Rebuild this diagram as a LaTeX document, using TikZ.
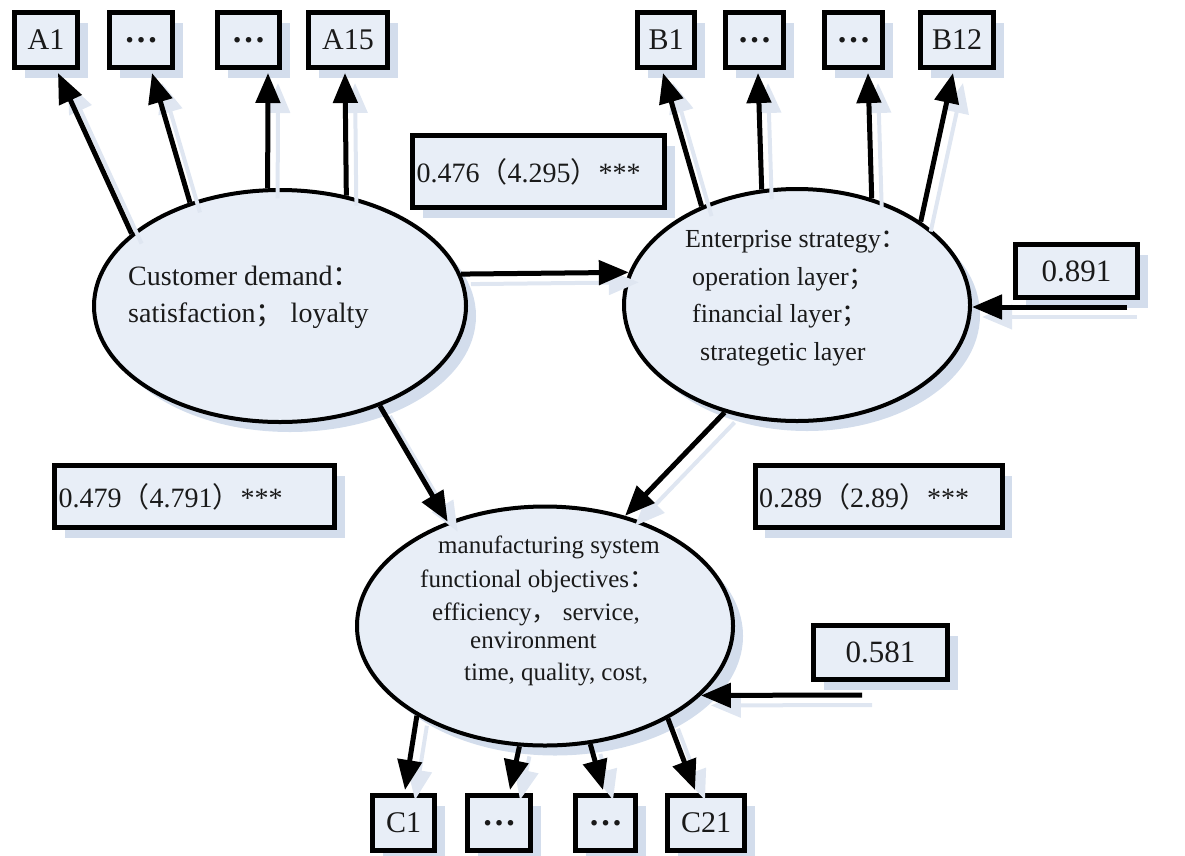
\documentclass[tikz,border=0pt]{standalone}
\usepackage{fontspec}
\setmainfont{Liberation Serif}
\newfontfamily\cjk{Noto Sans CJK SC}
\usetikzlibrary{arrows.meta,shadows,shapes.geometric}
\definecolor{boxfill}{HTML}{E8EEF7}
\definecolor{shadowc}{HTML}{D3DDEC}
\definecolor{ashadowc}{HTML}{DFE6F1}
\definecolor{inkc}{HTML}{1A1A1A}
\newcommand{\fwc}[1]{{\cjk #1}}
\begin{document}
\begin{tikzpicture}[x=1pt,y=-1pt,
  shad/.style={drop shadow={shadow xshift=10pt,shadow yshift=-10pt,fill=shadowc,opacity=1}},
  item/.style={shad, draw=black, line width=5pt, fill=boxfill, minimum height=55pt, inner sep=0pt, text=inkc, font=\fontsize{30}{32}\selectfont},
  dots/.style={item, font=\fontsize{34}{36}\selectfont\bfseries},
  coef/.style={shad, draw=black, line width=5pt, fill=boxfill, inner xsep=4pt, inner ysep=0pt, align=left, text=inkc, font=\fontsize{28}{32}\selectfont},
  resid/.style={shad, draw=black, line width=5pt, fill=boxfill, inner sep=0pt, text=inkc, font=\fontsize{31}{32}\selectfont},
  latent/.style={shad, ellipse, draw=black, line width=4pt, fill=boxfill, inner sep=0pt},
  ltext/.style={anchor=base west, inner sep=0pt, text=inkc},
  cdtext/.style={ltext, font=\fontsize{28}{30}\selectfont},
  estext/.style={ltext, font=\fontsize{26}{28}\selectfont},
  mstext/.style={ltext, font=\fontsize{25}{27}\selectfont},
  arr/.style={line width=5pt, -{Triangle[length=30pt,width=24pt]},
    preaction={draw=ashadowc, line width=4pt, transform canvas={shift={(10pt,-10pt)}}}}
]
\useasboundingbox (0,0) rectangle (1185,855);

% latent variables
\node[latent, minimum width=372pt, minimum height=232pt] (cd) at (280,306) {};
\node[latent, minimum width=346pt, minimum height=232pt] (es) at (797,305) {};
\node[latent, minimum width=376pt, minimum height=239pt] (ms) at (545,626) {};

\node[cdtext] (cd1) at (128,285) {Customer demand\fwc{：}};
\node[cdtext] (cd2) at (128,322) {satisfaction\fwc{；} loyalty};

\node[estext] (es1) at (685,247) {Enterprise strategy\fwc{：}};
\node[estext] (es2) at (692,285) {operation layer\fwc{；}};
\node[estext] (es3) at (692,322) {financial layer\fwc{；}};
\node[estext] (es4) at (700,360) {strategetic layer};

\node[mstext] (ms1) at (438,553) {manufacturing system};
\node[mstext] (ms2) at (420,587) {functional objectives\fwc{：}};
\node[mstext] (ms3) at (432,620) {efficiency\fwc{，} service,};
\node[mstext] (ms4) at (470,648) {environment};
\node[mstext] (ms5) at (464,680) {time, quality, cost,};

% observed indicators
\node[item, minimum width=63pt] (a1) at (46,40) {A1};
\node[dots, minimum width=63pt] (a2) at (141,40) {…};
\node[dots, minimum width=62pt] (a3) at (248.5,40) {…};
\node[item, minimum width=79pt] (a4) at (348,40) {A15};

\node[item, minimum width=57pt] (b1) at (666,40) {B1};
\node[dots, minimum width=58pt] (b2) at (754.5,40) {…};
\node[dots, minimum width=58pt] (b3) at (853.5,40) {…};
\node[item, minimum width=73pt] (b4) at (957,40) {B12};

\node[item, minimum width=62pt] (c1) at (403.5,823) {C1};
\node[dots, minimum width=63pt] (c2) at (499,823) {…};
\node[dots, minimum width=60pt] (c3) at (605.5,823) {…};
\node[item, minimum width=77pt] (c4) at (706,823) {C21};

% coefficients
\node[coef, text width=244pt, minimum height=72pt] (k1) at (538.5,171.5) {0.476\fwc{（}4.295\fwc{）}***};
\node[coef, text width=272pt, minimum height=62pt] (k2) at (194.5,496.5) {0.479\fwc{（}4.791\fwc{）}***};
\node[coef, text width=239pt, minimum height=62pt] (k3) at (878.5,496.5) {0.289\fwc{（}2.89\fwc{）}***};

\node[resid, minimum width=122pt, minimum height=53pt] (r1) at (1076.5,271) {0.891};
\node[resid, minimum width=134pt, minimum height=54pt] (r2) at (880.5,652.5) {0.581};
\coordinate (r1s) at (1127,307);
\coordinate (r2s) at (862,695);

% arrows
\draw[arr] (cd.154) -- ([xshift=12pt,yshift=-3pt]a1.south);
\draw[arr] (cd.131) -- ([xshift=11pt,yshift=-3pt]a2.south);
\draw[arr] (cd.96) -- ([xshift=19.5pt,yshift=-3pt]a3.south);
\draw[arr] (cd.59) -- ([xshift=-3pt,yshift=-3pt]a4.south);

\draw[arr] (es.134) -- ([xshift=-3pt,yshift=-3pt]b1.south);
\draw[arr] (es.107) -- ([xshift=3.5pt,yshift=-3pt]b2.south);
\draw[arr] (es.55) -- ([xshift=14.5pt,yshift=-3pt]b3.south);
\draw[arr] (es.34) -- ([xshift=-4pt,yshift=-3pt]b4.south);

\draw[arr] (cd.10) -- (es.169);
\draw[arr] (cd.-45) -- (ms.133);
\draw[arr] (es.236) -- (ms.54);

\draw[arr] (r1s) -- (es.east |- r1s);
\draw[arr] (r2s) -- (ms.-24.4);

\draw[arr] (ms.215.5) -- ([xshift=1.5pt,yshift=3pt]c1.north);
\draw[arr] (ms.258) -- ([xshift=11pt,yshift=3pt]c2.north);
\draw[arr] (ms.291.3) -- ([xshift=-2.5pt,yshift=3pt]c3.north);
\draw[arr] (ms.323.3) -- ([xshift=-11pt,yshift=3pt]c4.north);
\end{tikzpicture}
\end{document}
